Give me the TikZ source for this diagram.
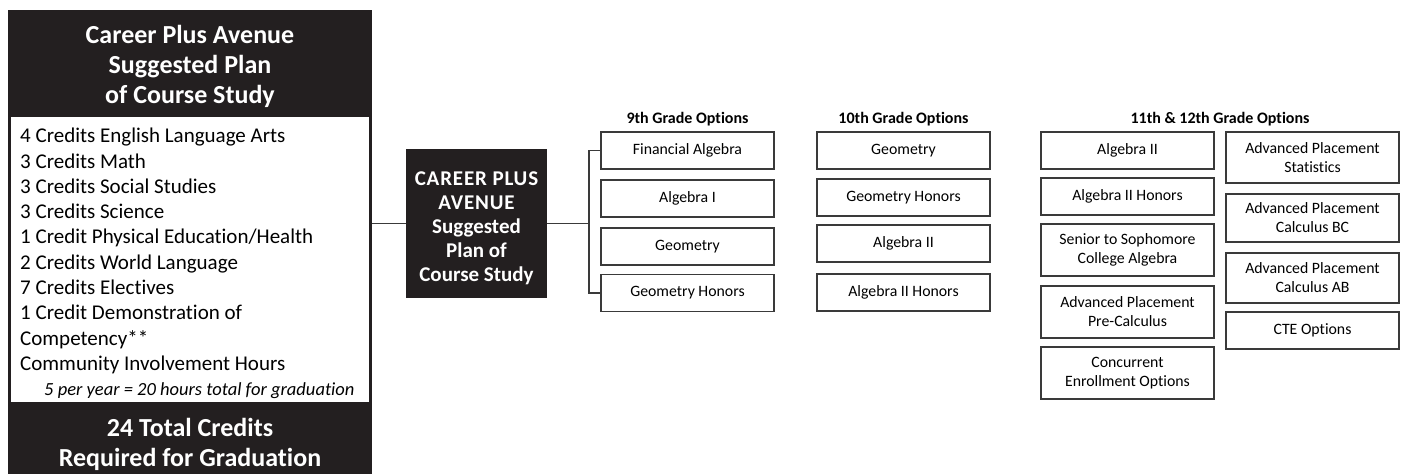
\documentclass[tikz,border=0pt]{standalone}
\usepackage{fontspec}
\setmainfont{Carlito}[Ligatures=NoCommon]
\definecolor{ink}{HTML}{231F20}
\definecolor{rule}{HTML}{3A3A3A}

\begin{document}
\begin{tikzpicture}[x=1pt,y=-1pt,
    dark/.style={fill=ink,text=white,inner sep=0pt,align=center},
    opt/.style={draw=rule,line width=1.4pt,minimum width=173pt,minimum height=37pt,inner sep=0pt,align=center,font=\fontsize{15.8}{19}\selectfont},
    head/.style={font=\bfseries\fontsize{16}{19}\selectfont},
    link/.style={draw=rule,line width=1.4pt}]
        \useasboundingbox (0,0) rectangle (1401,474);

        % left panel
        \node[dark,minimum width=364pt,minimum height=105pt,font=\bfseries\fontsize{26}{30}\selectfont](plan)at(190,62.5){\rule{0pt}{27pt}Career Plus Avenue\\Suggested Plan\\of Course Study};
        \node[draw=ink,line width=3pt,minimum width=361pt,minimum height=288pt](credits)at(190,259){};
        \node[anchor=west,inner sep=0pt,align=left,font=\fontsize{21}{25.3}\selectfont](list)at(20,263.5){4 Credits English Language Arts\\3 Credits Math\\3 Credits Social Studies\\3 Credits Science\\1 Credit Physical Education/Health\\2 Credits World Language\\7 Credits Electives\\1 Credit Demonstration of\\Competency**\\Community Involvement Hours\\\hspace*{24pt}{\itshape\fontsize{18.5}{25.3}\selectfont 5 per year = 20 hours total for graduation}};
        \node[dark,minimum width=364pt,minimum height=82pt,font=\bfseries\fontsize{26}{30}\selectfont](total)at(190,444){24 Total Credits\\Required for Graduation};

        % hub
        \node[dark,minimum width=141pt,minimum height=149pt,font=\bfseries\fontsize{21}{24}\selectfont](hub)at(476.5,223.5){{\addfontfeatures{LetterSpace=4}\rule{0pt}{24pt}CAREER PLUS}\\{\addfontfeatures{LetterSpace=4}AVENUE}\\Suggested\\Plan of\\Course Study};
        \coordinate(fork)at(589,223.5);
        \draw[link](credits.east|-hub.west)--(hub.west);
        \draw[link](hub.east)--(fork);

        % 9th grade
        \node[head](t9)at(687.5,119){9th Grade Options};
        \node[opt](fin)at(687.5,150.5){Financial Algebra};
        \node[opt](alg1)at(687.5,198.5){Algebra I};
        \node[opt](geo9)at(687.5,246.5){Geometry};
        \node[opt](geoh9)at(687.5,293){Geometry Honors};
        \draw[link](fin.west)-|(fork)|-(geoh9.west);

        % 10th grade
        \node[head](t10)at(903.5,119){10th Grade Options};
        \node[opt](geo10)at(903.5,150.5){Geometry};
        \node[opt](geoh10)at(903.5,197.5){Geometry Honors};
        \node[opt](alg2t)at(903.5,243.5){Algebra II};
        \node[opt](alg2h10)at(903.5,292.5){Algebra II Honors};

        % 11th and 12th grade
        \node[head](t11)at(1220,119){11th \& 12th Grade Options};
        \node[opt](alg2)at(1127.5,150.5){Algebra II};
        \node[opt](alg2h)at(1127.5,196.5){Algebra II Honors};
        \node[opt,minimum height=52pt](ssca)at(1127.5,250){Senior to Sophomore\\College Algebra};
        \node[opt,minimum height=52pt](appc)at(1127.5,312){Advanced Placement\\Pre-Calculus};
        \node[opt,minimum height=52pt](conc)at(1127.5,373){Concurrent\\Enrollment Options};
        \node[opt,minimum height=51pt](apstat)at(1312.5,157.5){Advanced Placement\\Statistics};
        \node[opt,minimum height=48pt](apbc)at(1312.5,218){Advanced Placement\\Calculus BC};
        \node[opt,minimum height=50pt](apab)at(1312.5,278){Advanced Placement\\Calculus AB};
        \node[opt](cte)at(1312.5,330.5){CTE Options};
    \end{tikzpicture}
\end{document}
